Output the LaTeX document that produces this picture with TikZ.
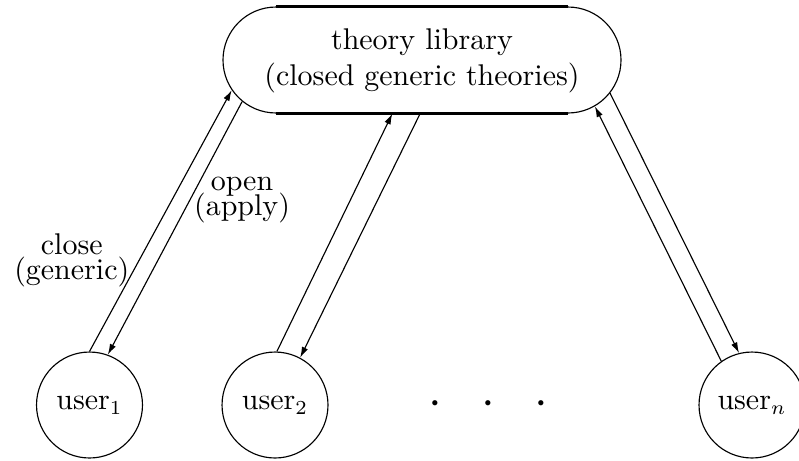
\documentclass[tikz,border=0pt]{standalone}
\usepackage{amsmath}
\usetikzlibrary{shapes.misc,arrows.meta}

\begin{document}
\begin{tikzpicture}[x=0.352pt,y=-0.352pt,
    font=\fontsize{10.55pt}{12.7pt}\selectfont,
    user/.style={draw, circle, minimum size=37.3pt, inner sep=0pt},
    store/.style={draw, rounded rectangle, minimum width=140.1pt,
      minimum height=37.3pt, inner sep=0pt},
    flow/.style={-{Latex[length=3.8pt,width=2.3pt]}}]
    \useasboundingbox (0,0) rectangle (799,460);
    \node(lib)[store] at (422,60)
      {\makebox[0pt]{\begin{tabular}{@{}c@{}}theory library\\(closed generic theories)\end{tabular}}};
    \draw[line width=1.1pt] ([shift={(-146,0)}]lib.north) -- ([shift={(146,0)}]lib.north);
    \draw[line width=1.1pt] ([shift={(-146,0)}]lib.south) -- ([shift={(146,0)}]lib.south);
    \node(u1)[user] at (89.5,405) {user$_1$};
    \node(u2)[user, right of=u1, node distance=65.3pt] {user$_2$};
    \node(dots)[right of=u2, node distance=75pt] {\LARGE$\cdot$\hspace{13.9pt}$\cdot$\hspace{13.9pt}$\cdot$};
    \node(un)[user, right of=dots, node distance=92.9pt] {user$_n$};
    \draw[flow] (u1.90) -- (lib.189) node[pos=0.35, left, align=center] {close\\[-3.9pt](generic)};
    \draw[flow] (lib.193) -- (u1.70) node[pos=0.39, right=-2pt, align=center] {open\\[-3.9pt](apply)};
    \draw[flow] (u2.88) -- (lib.241);
    \draw[flow] (lib.268) -- (u2.62);
    \draw[flow] (un.125) -- (lib.345);
    \draw[flow] (lib.350) -- (un.104);
  \end{tikzpicture}
\end{document}
